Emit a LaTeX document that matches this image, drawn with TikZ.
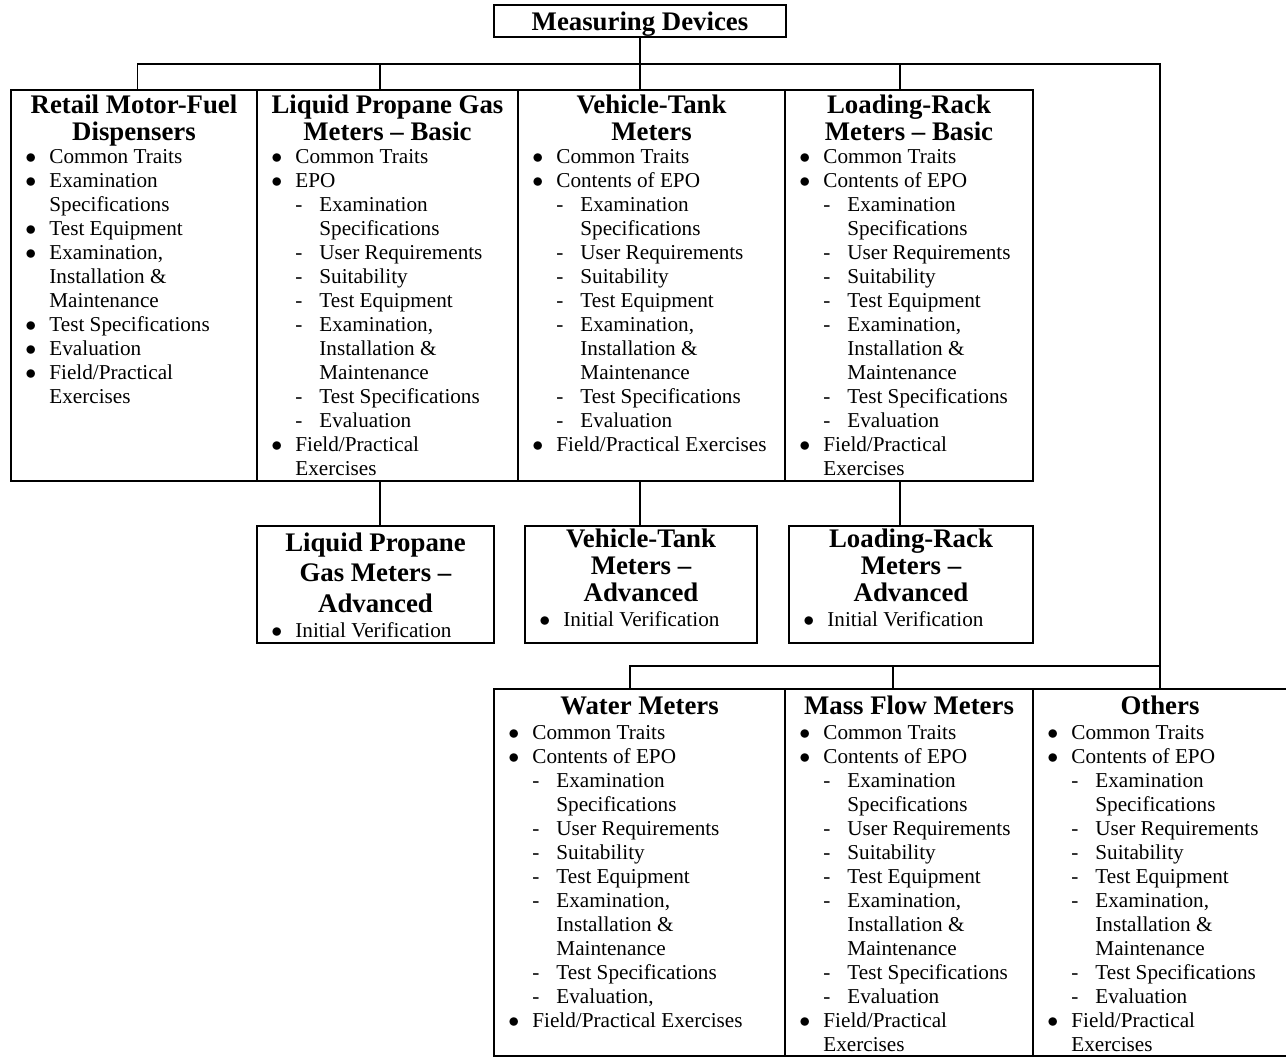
\documentclass[tikz,border=0pt]{standalone}
\usepackage{fontspec}
\setmainfont{Liberation Serif}
\usepackage{tikz}
\usetikzlibrary{calc, positioning}

\newcommand{\mdbul}{\makebox[9.5pt][l]{\hspace*{-2.5pt}$\bullet$}}
\newcommand{\mdcont}{\hspace*{9.5pt}}
\newcommand{\mddash}{\hspace*{9.5pt}\makebox[12pt][l]{-}}
\newcommand{\mddcont}{\hspace*{21.5pt}}

\tikzset{
    box/.style={draw, line width=0.8pt, rectangle, inner sep=0pt, outer sep=0pt, anchor=north west},
    head/.style={font=\fontsize{13.4}{13.5}\selectfont\bfseries, inner sep=0pt, anchor=base},
    items/.style={font=\fontsize{10.6}{12}\selectfont, inner sep=0pt, anchor=base west},
    link/.style={line width=0.8pt},
}

\begin{document}
\begin{tikzpicture}[x=0.5pt, y=-0.5pt]
    \useasboundingbox (0,0) rectangle (1286,1057);

    \node[box, minimum width=146pt, minimum height=16pt] (md) at (494,5) {};
    \node[head] (md_t) at (640,30) {Measuring Devices};

    \node[box, minimum width=123pt, minimum height=195.5pt] (rmf) at (11,90) {};
    \node[head] (rmf_t) at (134,113) {\begin{tabular}[t]{@{}c@{}}Retail Motor-Fuel\\ Dispensers\end{tabular}};
    \node[items] (rmf_i) at (30,163) {\begin{tabular}[t]{@{}l@{}}
        \mdbul Common Traits\\
        \mdbul Examination\\
        \mdcont Specifications\\
        \mdbul Test Equipment\\
        \mdbul Examination,\\
        \mdcont Installation \&\\
        \mdcont Maintenance\\
        \mdbul Test Specifications\\
        \mdbul Evaluation\\
        \mdbul Field/Practical\\
        \mdcont Exercises
    \end{tabular}};

    \node[box, minimum width=130.5pt, minimum height=195.5pt] (lpgb) at (257,90) {};
    \node[head] (lpgb_t) at (387.5,113) {\begin{tabular}[t]{@{}c@{}}Liquid Propane Gas\\ Meters -- Basic\end{tabular}};
    \node[items] (lpgb_i) at (276,163) {\begin{tabular}[t]{@{}l@{}}
        \mdbul Common Traits\\
        \mdbul EPO\\
        \mddash Examination\\
        \mddcont Specifications\\
        \mddash User Requirements\\
        \mddash Suitability\\
        \mddash Test Equipment\\
        \mddash Examination,\\
        \mddcont Installation \&\\
        \mddcont Maintenance\\
        \mddash Test Specifications\\
        \mddash Evaluation\\
        \mdbul Field/Practical\\
        \mdcont Exercises
    \end{tabular}};

    \node[box, minimum width=133.5pt, minimum height=195.5pt] (vtm) at (518,90) {};
    \node[head] (vtm_t) at (651.5,113) {\begin{tabular}[t]{@{}c@{}}Vehicle-Tank\\ Meters\end{tabular}};
    \node[items] (vtm_i) at (537,163) {\begin{tabular}[t]{@{}l@{}}
        \mdbul Common Traits\\
        \mdbul Contents of EPO\\
        \mddash Examination\\
        \mddcont Specifications\\
        \mddash User Requirements\\
        \mddash Suitability\\
        \mddash Test Equipment\\
        \mddash Examination,\\
        \mddcont Installation \&\\
        \mddcont Maintenance\\
        \mddash Test Specifications\\
        \mddash Evaluation\\
        \mdbul Field/Practical Exercises
    \end{tabular}};

    \node[box, minimum width=124pt, minimum height=195.5pt] (lrb) at (785,90) {};
    \node[head] (lrb_t) at (909,113) {\begin{tabular}[t]{@{}c@{}}Loading-Rack\\ Meters -- Basic\end{tabular}};
    \node[items] (lrb_i) at (804,163) {\begin{tabular}[t]{@{}l@{}}
        \mdbul Common Traits\\
        \mdbul Contents of EPO\\
        \mddash Examination\\
        \mddcont Specifications\\
        \mddash User Requirements\\
        \mddash Suitability\\
        \mddash Test Equipment\\
        \mddash Examination,\\
        \mddcont Installation \&\\
        \mddcont Maintenance\\
        \mddash Test Specifications\\
        \mddash Evaluation\\
        \mdbul Field/Practical\\
        \mdcont Exercises
    \end{tabular}};

    \node[box, minimum width=118.5pt, minimum height=58.5pt] (lpga) at (257,526) {};
    \node[head, font=\fontsize{13.4}{15.25}\selectfont\bfseries] (lpga_t) at (375.5,551) {\begin{tabular}[t]{@{}c@{}}Liquid Propane\\ Gas Meters --\\ Advanced\end{tabular}};
    \node[items] (lpga_i) at (276,637) {\mdbul Initial Verification};

    \node[box, minimum width=116pt, minimum height=58.5pt] (vta) at (525,526) {};
    \node[head] (vta_t) at (641,547) {\begin{tabular}[t]{@{}c@{}}Vehicle-Tank\\ Meters --\\ Advanced\end{tabular}};
    \node[items] (vta_i) at (544,626) {\mdbul Initial Verification};

    \node[box, minimum width=122pt, minimum height=58.5pt] (lra) at (789,526) {};
    \node[head] (lra_t) at (911,547) {\begin{tabular}[t]{@{}c@{}}Loading-Rack\\ Meters --\\ Advanced\end{tabular}};
    \node[items] (lra_i) at (808,626) {\mdbul Initial Verification};

    \node[box, minimum width=145.5pt, minimum height=183.5pt] (wm) at (494,689) {};
    \node[head] (wm_t) at (639.5,714) {Water Meters};
    \node[items] (wm_i) at (513,739) {\begin{tabular}[t]{@{}l@{}}
        \mdbul Common Traits\\
        \mdbul Contents of EPO\\
        \mddash Examination\\
        \mddcont Specifications\\
        \mddash User Requirements\\
        \mddash Suitability\\
        \mddash Test Equipment\\
        \mddash Examination,\\
        \mddcont Installation \&\\
        \mddcont Maintenance\\
        \mddash Test Specifications\\
        \mddash Evaluation,\\
        \mdbul Field/Practical Exercises
    \end{tabular}};

    \node[box, minimum width=124pt, minimum height=183.5pt] (mfm) at (785,689) {};
    \node[head] (mfm_t) at (909,714) {Mass Flow Meters};
    \node[items] (mfm_i) at (804,739) {\begin{tabular}[t]{@{}l@{}}
        \mdbul Common Traits\\
        \mdbul Contents of EPO\\
        \mddash Examination\\
        \mddcont Specifications\\
        \mddash User Requirements\\
        \mddash Suitability\\
        \mddash Test Equipment\\
        \mddash Examination,\\
        \mddcont Installation \&\\
        \mddcont Maintenance\\
        \mddash Test Specifications\\
        \mddash Evaluation\\
        \mdbul Field/Practical\\
        \mdcont Exercises
    \end{tabular}};

    \node[box, minimum width=127pt, minimum height=183.5pt] (oth) at (1033,689) {};
    \node[head] (oth_t) at (1160,714) {Others};
    \node[items] (oth_i) at (1052,739) {\begin{tabular}[t]{@{}l@{}}
        \mdbul Common Traits\\
        \mdbul Contents of EPO\\
        \mddash Examination\\
        \mddcont Specifications\\
        \mddash User Requirements\\
        \mddash Suitability\\
        \mddash Test Equipment\\
        \mddash Examination,\\
        \mddcont Installation \&\\
        \mddcont Maintenance\\
        \mddash Test Specifications\\
        \mddash Evaluation\\
        \mdbul Field/Practical\\
        \mdcont Exercises
    \end{tabular}};

    \coordinate (busA) at (640,64);
    \coordinate (busB) at (1160,666);
    \draw[link] (md.south) -- (busA);
    \draw[link] ($(rmf.north)+(3.5,0)$) |- (busA -| oth.north) -- (oth.north);
    \draw[link] ($(lpgb.north)+(-7.5,0)$) |- (busA);
    \draw[link] ($(vtm.north)+(-11.5,0)$) -- (busA);
    \draw[link] ($(lrb.north)+(-9,0)$) |- (busA);
    \draw[link] ($(lpgb.south)+(-7.5,0)$) -- ($(lpga.north)+(4.5,0)$);
    \draw[link] ($(vtm.south)+(-11.5,0)$) -- ($(vta.north)+(-1,0)$);
    \draw[link] ($(lrb.south)+(-9,0)$) -- ($(lra.north)+(-11,0)$);
    \draw[link] ($(wm.north)+(-9.5,0)$) |- (busB);
    \draw[link] ($(mfm.north)+(-16,0)$) |- (busB);
\end{tikzpicture}
\end{document}
